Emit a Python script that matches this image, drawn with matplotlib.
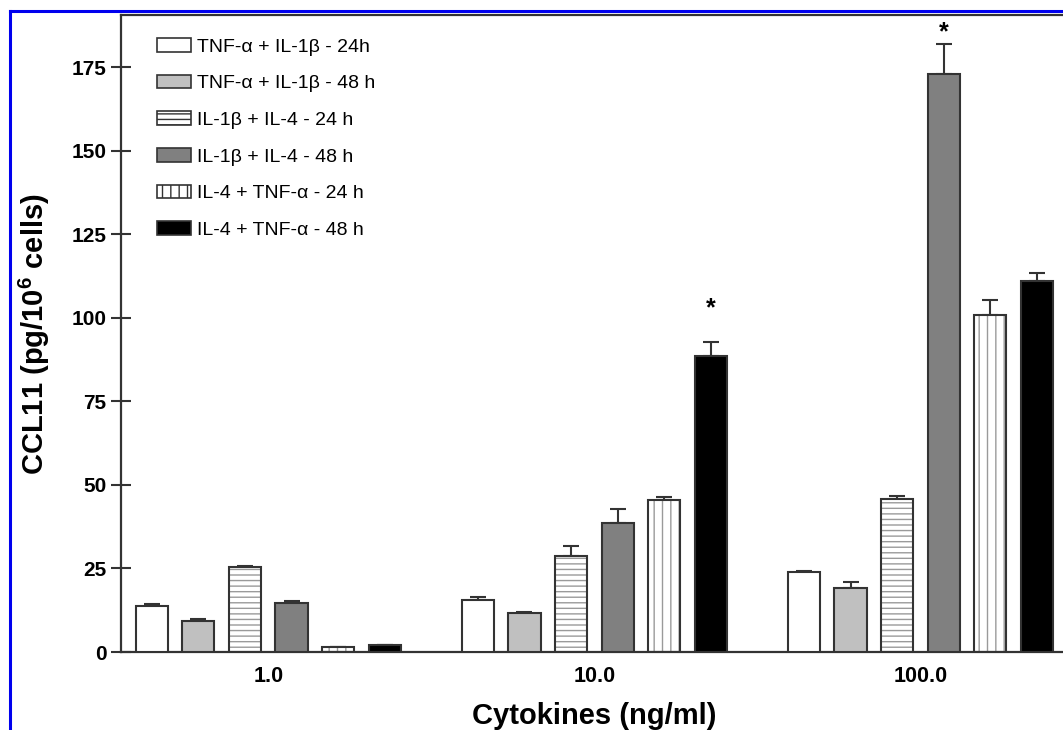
import matplotlib
matplotlib.use("Agg")
import matplotlib.pyplot as plt
from matplotlib.lines import Line2D
import numpy as np

plt.rcParams['font.family'] = ['Liberation Sans', 'DejaVu Sans']
plt.rcParams['mathtext.fontset'] = 'custom'
plt.rcParams['mathtext.rm'] = 'Liberation Sans'
plt.rcParams['mathtext.bf'] = 'Liberation Sans:bold'
plt.rcParams['hatch.linewidth'] = 1.0

# data
doses = ["1.0", "10.0", "100.0"]
series = ["TNF-α + IL-1β - 24h", "TNF-α + IL-1β - 48 h", "IL-1β + IL-4 - 24 h",
          "IL-1β + IL-4 - 48 h", "IL-4 + TNF-α - 24 h", "IL-4 + TNF-α - 48 h"]
means = [
    [13.9, 15.6, 24.0],
    [9.4, 11.6, 19.2],
    [25.5, 28.7, 45.9],
    [14.7, 38.7, 173.1],
    [1.4, 45.5, 101.0],
    [2.0, 88.5, 111.1],
]
errs = [
    [0.4, 0.8, 0.2],
    [0.4, 0.3, 1.9],
    [0.3, 3.1, 0.7],
    [0.6, 4.1, 9.0],
    [0.0, 1.0, 4.5],
    [0.0, 4.2, 2.2],
]
# significance marks: series index, dose index, height of the mark
star_series = [5, 3]
star_dose = [1, 2]
star_y = [103.0, 185.5]

fills = ["white", "#c0c0c0", "white", "#808080", "white", "black"]
hatches = [None, None, "---", None, "||", None]
edge = "#333333"

fig = plt.figure(figsize=(10.63, 7.30), dpi=100)
ax = fig.add_axes([0.1134, 0.1068, 1.0 - 0.1134, 0.9788 - 0.1068])

group_x = np.array([0.0, 7.0, 14.0])
width = 0.69

handles = []
for i, name in enumerate(series):
    x = group_x + (i - 2.5)
    m = np.array(means[i])
    e = np.array(errs[i])
    ax.errorbar(x, m, yerr=[np.zeros_like(e), e], fmt='none', ecolor=edge,
                elinewidth=1.5, capsize=6, capthick=1.5, zorder=1)
    if hatches[i]:
        ax.bar(x, m, width, color=fills[i], edgecolor="#9a9a9a", linewidth=0,
               hatch=hatches[i], zorder=2)
    ax.bar(x, m, width, color="none" if hatches[i] else fills[i],
           edgecolor=edge, linewidth=1.5, zorder=3)
    h = plt.Rectangle((0, 0), 1, 1, facecolor=fills[i], edgecolor=edge,
                      linewidth=1.2, hatch=hatches[i])
    handles.append(h)

for si, di, sy in zip(star_series, star_dose, star_y):
    x = group_x[di] + (si - 2.5)
    ax.text(x, sy, "*", ha='center', va='center', fontsize=18,
            fontweight='bold', clip_on=False)

ax.set_xlim(-3.17, 17.06)
ax.set_ylim(0, 190.5)
ax.set_yticks([0, 25, 50, 75, 100, 125, 150, 175])
ax.set_xticks(group_x)
ax.set_xticklabels(doses)
ax.tick_params(axis='y', direction='inout', length=14, width=1.5,
               labelsize=15, pad=3, color=edge)
ax.tick_params(axis='x', length=0, labelsize=15.5, pad=10)
for lab in ax.get_xticklabels() + ax.get_yticklabels():
    lab.set_fontweight('bold')

ax.spines['right'].set_visible(False)
for s in ['left', 'top', 'bottom']:
    ax.spines[s].set_linewidth(1.6)
    ax.spines[s].set_color(edge)

ax.set_xlabel("Cytokines (ng/ml)", fontsize=21, fontweight='bold')
ax.xaxis.set_label_coords((7.0 + 3.17) / (17.06 + 3.17), -0.078)
ax.set_ylabel(r"CCL11 (pg/10$^{\mathbf{6}}$ cells)", fontsize=21,
              fontweight='bold', labelpad=14)

leg = ax.legend(handles, series, loc='upper left', bbox_to_anchor=(0.03, 0.977),
                frameon=False, fontsize=14, handlelength=1.75, handleheight=0.7,
                handletextpad=0.35, labelspacing=0.98, borderaxespad=0)

# blue frame around the figure (only top and left edges visible)
fig.add_artist(Line2D([10 / 1063, 1.0], [1 - 11 / 730, 1 - 11 / 730],
                      color='#0000ee', linewidth=2.2, transform=fig.transFigure))
fig.add_artist(Line2D([10 / 1063, 10 / 1063], [0, 1 - 11 / 730],
                      color='#0000ee', linewidth=2.2, transform=fig.transFigure))

fig.savefig("out.png", dpi=100)
